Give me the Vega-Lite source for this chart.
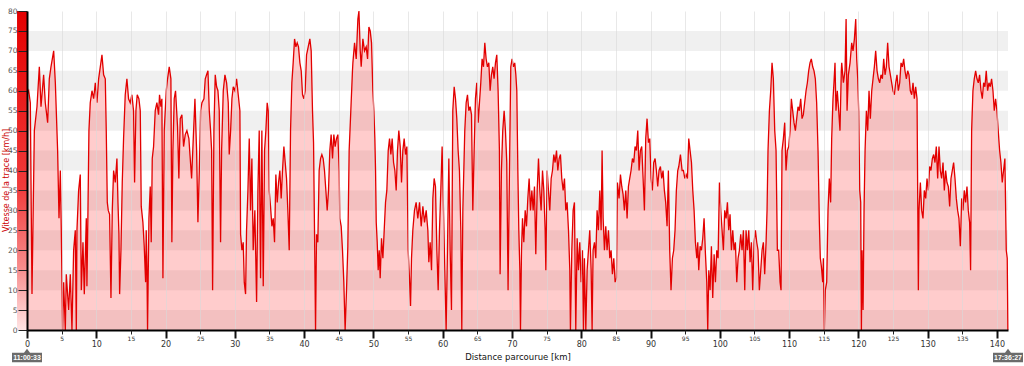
{
"$schema":"https://vega.github.io/schema/vega-lite/v6.json",
"width":981,"height":319,
"autosize":{"type":"none"},
"padding":{"left":27,"top":11,"right":16,"bottom":36},
"background":"white",
"config":{"font":"DejaVu Sans","view":{"stroke":null}},
"resolve":{"axis":{"x":"independent","y":"independent"}},
"datasets":{
"bands":[{"lo":0,"hi":5},{"lo":10,"hi":15},{"lo":20,"hi":25},{"lo":30,"hi":35},{"lo":40,"hi":45},{"lo":50,"hi":55},{"lo":60,"hi":65},{"lo":70,"hi":75}],
"times":[{"t":"11:00:33","km":0},{"t":"17:36:27","km":141.6}],
"speed":[
{"km":0.00,"v":59},{"km":0.24,"v":60},{"km":0.48,"v":57},{"km":0.72,"v":9},{"km":1.06,"v":50},{"km":1.44,"v":56},{"km":1.78,"v":66},{"km":2.02,"v":56},{"km":2.40,"v":64},{"km":2.64,"v":57},{"km":2.98,"v":52},{"km":3.22,"v":63},{"km":3.46,"v":66},{"km":3.85,"v":70},{"km":4.09,"v":62},{"km":4.42,"v":45},{"km":4.62,"v":28},{"km":4.81,"v":40},{"km":4.95,"v":25},{"km":5.14,"v":0},{"km":5.29,"v":12},{"km":5.53,"v":0},{"km":5.67,"v":14},{"km":6.01,"v":5},{"km":6.25,"v":14},{"km":6.49,"v":0},{"km":6.73,"v":20},{"km":6.97,"v":25},{"km":7.12,"v":0},{"km":7.21,"v":25},{"km":7.45,"v":35},{"km":7.69,"v":39},{"km":7.84,"v":10},{"km":8.08,"v":22},{"km":8.27,"v":9},{"km":8.56,"v":28},{"km":8.65,"v":11},{"km":8.80,"v":30},{"km":8.94,"v":50},{"km":9.13,"v":57},{"km":9.38,"v":60},{"km":9.62,"v":58},{"km":9.86,"v":62},{"km":10.10,"v":57},{"km":10.34,"v":63},{"km":10.58,"v":66},{"km":10.82,"v":69},{"km":11.06,"v":64},{"km":11.30,"v":63},{"km":11.44,"v":50},{"km":11.59,"v":32},{"km":11.73,"v":30},{"km":11.92,"v":29},{"km":12.12,"v":8},{"km":12.31,"v":30},{"km":12.50,"v":40},{"km":12.74,"v":37},{"km":12.98,"v":43},{"km":13.13,"v":32},{"km":13.27,"v":24},{"km":13.37,"v":9},{"km":13.56,"v":20},{"km":13.75,"v":37},{"km":13.94,"v":48},{"km":14.18,"v":59},{"km":14.42,"v":63},{"km":14.66,"v":58},{"km":14.90,"v":57},{"km":15.14,"v":59},{"km":15.38,"v":55},{"km":15.53,"v":37},{"km":15.72,"v":55},{"km":15.91,"v":59},{"km":16.15,"v":58},{"km":16.35,"v":55},{"km":16.49,"v":31},{"km":16.73,"v":27},{"km":16.92,"v":21},{"km":17.12,"v":12},{"km":17.21,"v":25},{"km":17.31,"v":16},{"km":17.40,"v":0},{"km":17.60,"v":28},{"km":17.79,"v":36},{"km":17.93,"v":22},{"km":18.08,"v":43},{"km":18.27,"v":46},{"km":18.51,"v":55},{"km":18.75,"v":57},{"km":18.99,"v":54},{"km":19.13,"v":59},{"km":19.33,"v":56},{"km":19.47,"v":58},{"km":19.62,"v":13},{"km":19.81,"v":50},{"km":20.10,"v":60},{"km":20.29,"v":63},{"km":20.53,"v":66},{"km":20.77,"v":63},{"km":20.91,"v":22},{"km":21.06,"v":45},{"km":21.25,"v":58},{"km":21.44,"v":60},{"km":21.73,"v":51},{"km":21.92,"v":38},{"km":22.12,"v":53},{"km":22.36,"v":54},{"km":22.60,"v":46},{"km":22.84,"v":49},{"km":23.08,"v":50},{"km":23.37,"v":48},
{"km":23.52,"v":44},{"km":23.76,"v":38},{"km":24.00,"v":48},{"km":24.24,"v":58},{"km":24.48,"v":45},{"km":24.67,"v":27},{"km":24.87,"v":40},{"km":25.06,"v":55},{"km":25.25,"v":57},{"km":25.54,"v":58},{"km":25.73,"v":63},{"km":25.92,"v":64},{"km":26.12,"v":65},{"km":26.31,"v":55},{"km":26.50,"v":50},{"km":26.65,"v":45},{"km":26.79,"v":10},{"km":26.98,"v":50},{"km":27.17,"v":64},{"km":27.37,"v":61},{"km":27.56,"v":60},{"km":27.75,"v":55},{"km":27.94,"v":22},{"km":28.09,"v":45},{"km":28.33,"v":60},{"km":28.57,"v":64},{"km":28.81,"v":62},{"km":29.05,"v":57},{"km":29.19,"v":44},{"km":29.39,"v":50},{"km":29.58,"v":58},{"km":29.77,"v":61},{"km":30.01,"v":60},{"km":30.25,"v":63},{"km":30.49,"v":59},{"km":30.73,"v":55},{"km":30.83,"v":24},{"km":31.02,"v":20},{"km":31.21,"v":22},{"km":31.36,"v":12},{"km":31.55,"v":9},{"km":31.69,"v":25},{"km":31.89,"v":35},{"km":32.08,"v":48},{"km":32.27,"v":30},{"km":32.46,"v":43},{"km":32.65,"v":20},{"km":32.89,"v":30},{"km":33.14,"v":7},{"km":33.33,"v":35},{"km":33.52,"v":50},{"km":33.71,"v":13},{"km":33.90,"v":50},{"km":34.10,"v":11},{"km":34.29,"v":45},{"km":34.48,"v":50},{"km":34.67,"v":57},{"km":34.82,"v":55},{"km":34.96,"v":35},{"km":35.15,"v":31},{"km":35.35,"v":26},{"km":35.54,"v":28},{"km":35.73,"v":22},{"km":35.92,"v":39},{"km":36.12,"v":32},{"km":36.31,"v":37},{"km":36.50,"v":40},{"km":36.69,"v":33},{"km":36.88,"v":40},{"km":37.08,"v":46},{"km":37.27,"v":42},{"km":37.46,"v":38},{"km":37.65,"v":30},{"km":37.85,"v":20},{"km":38.04,"v":50},{"km":38.23,"v":62},{"km":38.42,"v":67},{"km":38.62,"v":73},{"km":38.81,"v":71},{"km":39.00,"v":72},{"km":39.19,"v":71},{"km":39.39,"v":67},{"km":39.58,"v":65},{"km":39.77,"v":59},{"km":39.96,"v":58},{"km":40.15,"v":60},{"km":40.35,"v":69},{"km":40.59,"v":71},{"km":40.83,"v":73},{"km":41.02,"v":70},{"km":41.21,"v":55},{"km":41.36,"v":47},{"km":41.50,"v":25},{"km":41.65,"v":0},{"km":41.79,"v":24},{"km":41.98,"v":22},{"km":42.17,"v":40},{"km":42.37,"v":43},{"km":42.56,"v":44},{"km":42.75,"v":43},{"km":42.94,"v":40},{"km":43.14,"v":35},{"km":43.33,"v":30},{"km":43.52,"v":35},{"km":43.71,"v":45},{"km":43.90,"v":49},{"km":44.10,"v":43},{"km":44.29,"v":49},{"km":44.48,"v":46},{"km":44.67,"v":48},{"km":44.87,"v":49},{"km":45.06,"v":40},{"km":45.15,"v":28},{"km":45.35,"v":26},{"km":45.54,"v":20},{"km":45.73,"v":12},{"km":45.92,"v":0},{"km":46.12,"v":10},{"km":46.31,"v":21},{"km":46.50,"v":45},{"km":46.74,"v":55},{"km":46.98,"v":65},
{"km":47.04,"v":67},{"km":47.28,"v":72},{"km":47.52,"v":68},{"km":47.76,"v":78},{"km":47.91,"v":80},{"km":48.10,"v":70},{"km":48.24,"v":66},{"km":48.48,"v":73},{"km":48.72,"v":70},{"km":48.96,"v":71},{"km":49.16,"v":68},{"km":49.35,"v":76},{"km":49.54,"v":75},{"km":49.73,"v":72},{"km":49.92,"v":60},{"km":50.07,"v":55},{"km":50.21,"v":48},{"km":50.31,"v":40},{"km":50.41,"v":27},{"km":50.55,"v":22},{"km":50.69,"v":15},{"km":50.84,"v":20},{"km":50.98,"v":13},{"km":51.17,"v":23},{"km":51.37,"v":18},{"km":51.56,"v":25},{"km":51.75,"v":32},{"km":51.94,"v":35},{"km":52.14,"v":45},{"km":52.33,"v":48},{"km":52.52,"v":44},{"km":52.71,"v":48},{"km":52.91,"v":42},{"km":53.10,"v":40},{"km":53.29,"v":35},{"km":53.48,"v":45},{"km":53.67,"v":50},{"km":53.87,"v":46},{"km":54.06,"v":37},{"km":54.25,"v":45},{"km":54.44,"v":48},{"km":54.64,"v":44},{"km":54.83,"v":46},{"km":55.02,"v":20},{"km":55.21,"v":13},{"km":55.36,"v":6},{"km":55.50,"v":18},{"km":55.69,"v":25},{"km":55.93,"v":30},{"km":56.17,"v":32},{"km":56.41,"v":28},{"km":56.66,"v":32},{"km":56.90,"v":26},{"km":57.14,"v":31},{"km":57.38,"v":27},{"km":57.62,"v":30},{"km":57.86,"v":25},{"km":58.00,"v":17},{"km":58.19,"v":22},{"km":58.39,"v":15},{"km":58.58,"v":33},{"km":58.77,"v":38},{"km":58.96,"v":36},{"km":59.16,"v":20},{"km":59.35,"v":10},{"km":59.54,"v":25},{"km":59.73,"v":35},{"km":59.92,"v":46},{"km":60.12,"v":30},{"km":60.31,"v":15},{"km":60.50,"v":0},{"km":60.69,"v":20},{"km":60.89,"v":43},{"km":61.08,"v":20},{"km":61.27,"v":5},{"km":61.46,"v":55},{"km":61.66,"v":61},{"km":61.85,"v":58},{"km":62.04,"v":53},{"km":62.23,"v":45},{"km":62.42,"v":40},{"km":62.62,"v":25},{"km":62.76,"v":0},{"km":62.91,"v":30},{"km":63.19,"v":50},{"km":63.39,"v":57},{"km":63.58,"v":59},{"km":63.77,"v":55},{"km":63.96,"v":56},{"km":64.16,"v":54},{"km":64.35,"v":30},{"km":64.54,"v":45},{"km":64.73,"v":58},{"km":64.92,"v":62},{"km":65.12,"v":52},{"km":65.31,"v":57},{"km":65.50,"v":62},{"km":65.69,"v":68},{"km":65.89,"v":66},{"km":66.08,"v":72},{"km":66.27,"v":68},{"km":66.46,"v":66},{"km":66.66,"v":67},{"km":66.85,"v":60},{"km":67.04,"v":64},{"km":67.23,"v":66},{"km":67.42,"v":63},{"km":67.62,"v":67},{"km":67.81,"v":69},{"km":68.00,"v":60},{"km":68.19,"v":45},{"km":68.29,"v":14},{"km":68.48,"v":40},{"km":68.67,"v":50},{"km":68.87,"v":55},{"km":69.06,"v":50},{"km":69.25,"v":42},{"km":69.44,"v":10},{"km":69.64,"v":40},{"km":69.83,"v":66},{"km":70.02,"v":68},{"km":70.21,"v":66},{"km":70.40,"v":67},
{"km":70.56,"v":64},{"km":70.70,"v":60},{"km":70.85,"v":40},{"km":70.99,"v":25},{"km":71.14,"v":15},{"km":71.23,"v":0},{"km":71.38,"v":20},{"km":71.52,"v":28},{"km":71.71,"v":22},{"km":71.91,"v":30},{"km":72.10,"v":26},{"km":72.29,"v":33},{"km":72.48,"v":38},{"km":72.68,"v":30},{"km":72.87,"v":35},{"km":73.06,"v":30},{"km":73.25,"v":36},{"km":73.44,"v":19},{"km":73.64,"v":35},{"km":73.83,"v":43},{"km":74.02,"v":35},{"km":74.21,"v":30},{"km":74.41,"v":40},{"km":74.60,"v":35},{"km":74.79,"v":25},{"km":74.89,"v":15},{"km":75.08,"v":40},{"km":75.27,"v":35},{"km":75.46,"v":30},{"km":75.66,"v":38},{"km":75.85,"v":40},{"km":76.04,"v":44},{"km":76.23,"v":42},{"km":76.43,"v":45},{"km":76.62,"v":40},{"km":76.81,"v":43},{"km":77.00,"v":44},{"km":77.19,"v":38},{"km":77.39,"v":35},{"km":77.58,"v":38},{"km":77.77,"v":30},{"km":77.96,"v":32},{"km":78.16,"v":25},{"km":78.35,"v":15},{"km":78.44,"v":0},{"km":78.64,"v":20},{"km":78.83,"v":30},{"km":79.02,"v":32},{"km":79.21,"v":0},{"km":79.41,"v":23},{"km":79.60,"v":15},{"km":79.79,"v":22},{"km":79.98,"v":12},{"km":80.18,"v":20},{"km":80.32,"v":0},{"km":80.46,"v":18},{"km":80.66,"v":0},{"km":80.85,"v":15},{"km":81.04,"v":20},{"km":81.23,"v":25},{"km":81.43,"v":15},{"km":81.57,"v":0},{"km":81.71,"v":20},{"km":81.91,"v":22},{"km":82.10,"v":18},{"km":82.29,"v":30},{"km":82.48,"v":25},{"km":82.68,"v":35},{"km":82.87,"v":25},{"km":83.01,"v":45},{"km":83.16,"v":28},{"km":83.35,"v":20},{"km":83.54,"v":26},{"km":83.73,"v":20},{"km":83.93,"v":25},{"km":84.12,"v":18},{"km":84.31,"v":20},{"km":84.50,"v":14},{"km":84.70,"v":18},{"km":84.89,"v":12},{"km":85.08,"v":13},{"km":85.22,"v":37},{"km":85.46,"v":33},{"km":85.66,"v":39},{"km":85.85,"v":36},{"km":86.04,"v":34},{"km":86.23,"v":30},{"km":86.43,"v":35},{"km":86.62,"v":28},{"km":86.81,"v":36},{"km":87.00,"v":38},{"km":87.19,"v":40},{"km":87.39,"v":43},{"km":87.58,"v":42},{"km":87.77,"v":46},{"km":87.96,"v":45},{"km":88.16,"v":50},{"km":88.35,"v":40},{"km":88.54,"v":45},{"km":88.73,"v":46},{"km":88.93,"v":38},{"km":89.12,"v":30},{"km":89.31,"v":48},{"km":89.50,"v":53},{"km":89.70,"v":47},{"km":89.89,"v":48},{"km":90.08,"v":38},{"km":90.27,"v":35},{"km":90.46,"v":42},{"km":90.66,"v":43},{"km":90.85,"v":40},{"km":91.04,"v":36},{"km":91.23,"v":40},{"km":91.43,"v":41},{"km":91.62,"v":38},{"km":91.81,"v":40},{"km":92.00,"v":35},{"km":92.19,"v":32},{"km":92.39,"v":26},{"km":92.58,"v":40},{"km":92.77,"v":20},{"km":92.96,"v":10},{"km":93.16,"v":18},{"km":93.35,"v":20},{"km":93.54,"v":25},{"km":93.73,"v":35},{"km":93.93,"v":40},
{"km":94.08,"v":41},{"km":94.32,"v":44},{"km":94.56,"v":40},{"km":94.75,"v":40},{"km":94.95,"v":38},{"km":95.14,"v":39},{"km":95.33,"v":38},{"km":95.52,"v":48},{"km":95.71,"v":45},{"km":95.91,"v":42},{"km":96.10,"v":35},{"km":96.29,"v":30},{"km":96.48,"v":22},{"km":96.68,"v":18},{"km":96.82,"v":22},{"km":96.96,"v":15},{"km":97.16,"v":21},{"km":97.35,"v":20},{"km":97.54,"v":23},{"km":97.73,"v":28},{"km":97.93,"v":19},{"km":98.12,"v":12},{"km":98.26,"v":0},{"km":98.41,"v":15},{"km":98.60,"v":10},{"km":98.79,"v":21},{"km":98.98,"v":8},{"km":99.18,"v":19},{"km":99.37,"v":12},{"km":99.56,"v":20},{"km":99.75,"v":18},{"km":99.95,"v":37},{"km":100.14,"v":30},{"km":100.33,"v":25},{"km":100.52,"v":20},{"km":100.71,"v":30},{"km":100.91,"v":28},{"km":101.10,"v":32},{"km":101.29,"v":25},{"km":101.48,"v":29},{"km":101.68,"v":20},{"km":101.87,"v":25},{"km":102.06,"v":20},{"km":102.25,"v":22},{"km":102.45,"v":12},{"km":102.64,"v":18},{"km":102.83,"v":20},{"km":103.02,"v":24},{"km":103.21,"v":20},{"km":103.41,"v":25},{"km":103.60,"v":10},{"km":103.79,"v":25},{"km":103.98,"v":20},{"km":104.18,"v":25},{"km":104.37,"v":17},{"km":104.56,"v":22},{"km":104.75,"v":10},{"km":104.95,"v":22},{"km":105.14,"v":25},{"km":105.33,"v":22},{"km":105.52,"v":20},{"km":105.71,"v":10},{"km":105.91,"v":15},{"km":106.10,"v":20},{"km":106.29,"v":22},{"km":106.48,"v":14},{"km":106.68,"v":22},{"km":106.82,"v":30},{"km":106.96,"v":45},{"km":107.16,"v":55},{"km":107.35,"v":60},{"km":107.54,"v":67},{"km":107.73,"v":63},{"km":107.93,"v":50},{"km":108.12,"v":45},{"km":108.31,"v":20},{"km":108.50,"v":20},{"km":108.70,"v":12},{"km":108.84,"v":10},{"km":108.98,"v":45},{"km":109.18,"v":48},{"km":109.37,"v":52},{"km":109.56,"v":40},{"km":109.75,"v":45},{"km":109.95,"v":46},{"km":110.14,"v":50},{"km":110.33,"v":58},{"km":110.52,"v":55},{"km":110.71,"v":52},{"km":110.91,"v":50},{"km":111.10,"v":53},{"km":111.29,"v":56},{"km":111.48,"v":55},{"km":111.68,"v":58},{"km":111.87,"v":53},{"km":112.06,"v":54},{"km":112.25,"v":57},{"km":112.45,"v":60},{"km":112.64,"v":62},{"km":112.83,"v":65},{"km":113.02,"v":67},{"km":113.21,"v":68},{"km":113.41,"v":66},{"km":113.60,"v":65},{"km":113.79,"v":63},{"km":113.98,"v":57},{"km":114.18,"v":45},{"km":114.37,"v":27},{"km":114.51,"v":18},{"km":114.66,"v":16},{"km":114.85,"v":12},{"km":114.95,"v":18},{"km":115.09,"v":0},{"km":115.23,"v":10},{"km":115.43,"v":12},{"km":115.62,"v":30},{"km":115.81,"v":38},{"km":116.00,"v":32},{"km":116.15,"v":48},{"km":116.34,"v":58},{"km":116.48,"v":62},{"km":116.63,"v":67},{"km":116.77,"v":55},{"km":116.96,"v":60},{"km":117.16,"v":55},{"km":117.35,"v":50},{"km":117.54,"v":65},
{"km":117.60,"v":67},{"km":117.84,"v":62},{"km":118.08,"v":65},{"km":118.23,"v":78},{"km":118.37,"v":55},{"km":118.56,"v":64},{"km":118.80,"v":67},{"km":119.04,"v":72},{"km":119.23,"v":70},{"km":119.43,"v":73},{"km":119.62,"v":78},{"km":119.76,"v":68},{"km":119.91,"v":63},{"km":120.05,"v":55},{"km":120.20,"v":35},{"km":120.34,"v":32},{"km":120.44,"v":0},{"km":120.53,"v":20},{"km":120.68,"v":5},{"km":120.82,"v":30},{"km":120.97,"v":45},{"km":121.16,"v":55},{"km":121.35,"v":50},{"km":121.54,"v":60},{"km":121.73,"v":53},{"km":121.93,"v":60},{"km":122.12,"v":63},{"km":122.31,"v":66},{"km":122.50,"v":70},{"km":122.70,"v":65},{"km":122.89,"v":63},{"km":123.08,"v":62},{"km":123.27,"v":64},{"km":123.47,"v":63},{"km":123.66,"v":68},{"km":123.85,"v":64},{"km":124.04,"v":66},{"km":124.23,"v":72},{"km":124.43,"v":66},{"km":124.62,"v":64},{"km":124.81,"v":62},{"km":125.00,"v":60},{"km":125.20,"v":59},{"km":125.39,"v":62},{"km":125.58,"v":64},{"km":125.77,"v":60},{"km":125.97,"v":62},{"km":126.16,"v":67},{"km":126.35,"v":66},{"km":126.54,"v":68},{"km":126.73,"v":65},{"km":126.93,"v":63},{"km":127.12,"v":65},{"km":127.31,"v":64},{"km":127.50,"v":60},{"km":127.70,"v":59},{"km":127.89,"v":62},{"km":128.08,"v":58},{"km":128.27,"v":61},{"km":128.47,"v":58},{"km":128.56,"v":35},{"km":128.66,"v":10},{"km":128.75,"v":30},{"km":128.95,"v":37},{"km":129.14,"v":30},{"km":129.33,"v":28},{"km":129.52,"v":35},{"km":129.72,"v":33},{"km":129.91,"v":38},{"km":130.10,"v":35},{"km":130.29,"v":41},{"km":130.48,"v":40},{"km":130.68,"v":43},{"km":130.87,"v":44},{"km":131.06,"v":42},{"km":131.25,"v":46},{"km":131.45,"v":38},{"km":131.64,"v":46},{"km":131.83,"v":40},{"km":132.02,"v":38},{"km":132.22,"v":42},{"km":132.41,"v":35},{"km":132.60,"v":40},{"km":132.79,"v":37},{"km":132.98,"v":36},{"km":133.18,"v":31},{"km":133.37,"v":38},{"km":133.56,"v":40},{"km":133.75,"v":42},{"km":133.95,"v":38},{"km":134.14,"v":33},{"km":134.33,"v":30},{"km":134.52,"v":28},{"km":134.72,"v":21},{"km":134.91,"v":33},{"km":135.10,"v":30},{"km":135.29,"v":35},{"km":135.48,"v":32},{"km":135.68,"v":36},{"km":135.87,"v":30},{"km":136.06,"v":27},{"km":136.20,"v":15},{"km":136.35,"v":50},{"km":136.54,"v":60},{"km":136.73,"v":63},{"km":136.93,"v":65},{"km":137.12,"v":63},{"km":137.31,"v":62},{"km":137.50,"v":64},{"km":137.70,"v":60},{"km":137.89,"v":58},{"km":138.08,"v":62},{"km":138.27,"v":61},{"km":138.46,"v":65},{"km":138.66,"v":60},{"km":138.85,"v":62},{"km":139.04,"v":61},{"km":139.23,"v":63},{"km":139.43,"v":60},{"km":139.62,"v":55},{"km":139.81,"v":58},{"km":140.00,"v":55},{"km":140.19,"v":50},{"km":140.39,"v":45},{"km":140.58,"v":42},{"km":140.77,"v":37},{"km":140.96,"v":40},{"km":141.15,"v":43},{"km":141.35,"v":20},{"km":141.49,"v":18},{"km":141.58,"v":0}
]},
"layer":[
{"data":{"name":"bands"},"mark":{"type":"rect","color":"#f0f0f0"},
 "encoding":{
  "x":{"datum":0,"type":"quantitative","scale":{"domain":[0,141.6],"nice":false,"zero":false},
   "axis":{"orient":"bottom","title":"Distance parcourue [km]","values":[0,10,20,30,40,50,60,70,80,90,100,110,120,130,140],
    "grid":true,"gridColor":"#d8d8d8","gridOpacity":0.6,"gridWidth":1,
    "domainColor":"#000000","domainWidth":2,"tickColor":"#111111","tickSize":8,"tickWidth":2,
    "labelFontSize":8,"labelColor":"#333333","labelPadding":2,"labelFlush":false,"labelOverlap":false,
    "titleFontSize":8.5,"titleFontWeight":"normal","titleColor":"#111111","titlePadding":4,"zindex":1}},
  "x2":{"datum":141.6},
  "y":{"field":"lo","type":"quantitative","scale":{"domain":[0,80],"nice":false},
   "axis":{"orient":"left","title":"Vitesse de la trace [km/h]","values":[0,5,10,15,20,25,30,35,40,45,50,55,60,65,70,75,80],"grid":false,
    "domainColor":"#000000","domainWidth":2,"tickColor":"#222222","tickSize":9,"tickWidth":1,
    "labelFontSize":7.5,"labelColor":"#555555","labelPadding":1,"labelOverlap":false,"labelFlush":false,
    "titleColor":"#cc0000","titleFontSize":8,"titleFontWeight":"normal","titleX":-21,"titleY":169,"titleAngle":270,"titleAlign":"center","titleBaseline":"middle","zindex":1}},
  "y2":{"field":"hi"}}},
{"data":{"values":[{}]},"mark":{"type":"rect","clip":false,"color":{"gradient":"linear","x1":0,"y1":0,"x2":0,"y2":1,"stops":[{"offset":0,"color":"#e30000"},{"offset":0.55,"color":"#f03a3a"},{"offset":0.8,"color":"#f78a8a"},{"offset":1,"color":"#ffe4e4"}]}},
 "encoding":{"x":{"datum":-1.44,"type":"quantitative","axis":null},"x2":{"datum":0},"y":{"datum":0,"type":"quantitative","axis":null},"y2":{"datum":80}}},
{"data":{"name":"speed"},"mark":{"type":"area","color":"#ff0000","fillOpacity":0.2,"interpolate":"linear"},
 "encoding":{
  "x":{"field":"km","type":"quantitative",
   "axis":{"orient":"bottom","title":null,"values":[5,15,25,35,45,55,65,75,85,95,105,115,125,135],
    "grid":true,"gridColor":"#d8d8d8","gridOpacity":0.6,"gridWidth":1,"domain":false,
    "tickColor":"#222222","tickSize":4,"tickWidth":1,"labelFontSize":6,"labelColor":"#333333","labelPadding":1,"labelOverlap":false,"labelFlush":false,"zindex":1}},
  "y":{"field":"v","type":"quantitative","axis":null}}},
{"data":{"name":"speed"},"mark":{"type":"line","color":"#e30000","strokeWidth":1.3,"interpolate":"linear"},
 "encoding":{"x":{"field":"km","type":"quantitative","axis":null},"y":{"field":"v","type":"quantitative","axis":null}}},
{"data":{"name":"times"},"mark":{"type":"point","shape":"M-1,-0.31L-0.2,-0.31L0,-0.59L0.2,-0.31L1,-0.31L1,0.31L-1,0.31Z","size":900,"filled":true,"color":"#6b6b6b","opacity":1,"yOffset":27.5,"clip":false},
 "encoding":{"x":{"field":"km","type":"quantitative","axis":null},"y":{"datum":0,"type":"quantitative","axis":null}}},
{"data":{"name":"times"},"mark":{"type":"text","color":"#ffffff","font":"Liberation Sans","fontSize":7,"fontWeight":"bold","yOffset":27.5,"baseline":"middle","align":"center","clip":false},
 "encoding":{"x":{"field":"km","type":"quantitative","axis":null},"y":{"datum":0,"type":"quantitative","axis":null},"text":{"field":"t"}}}
]
}
